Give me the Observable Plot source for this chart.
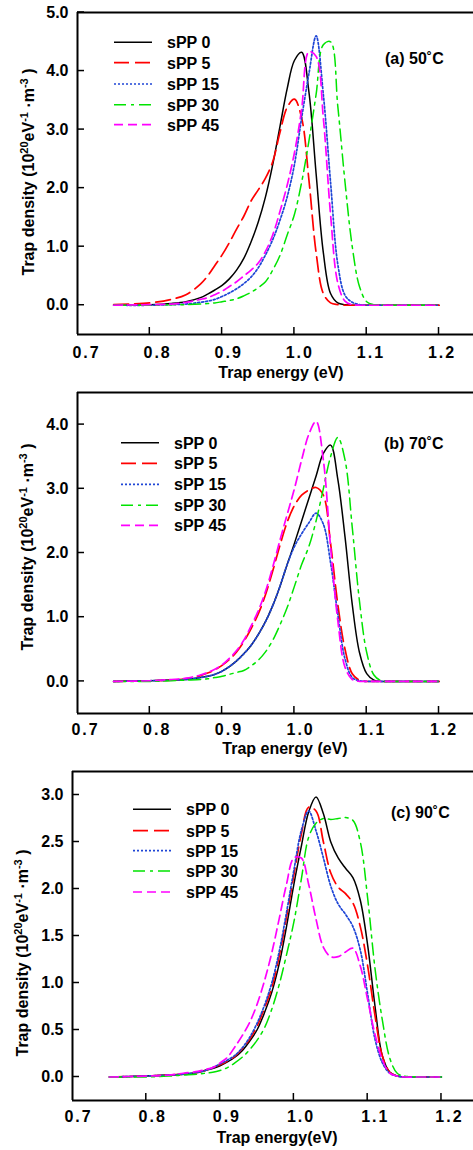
<!DOCTYPE html>
<html><head><meta charset="utf-8">
<script src="https://cdn.jsdelivr.net/npm/d3@7"></script>
<script src="https://cdn.jsdelivr.net/npm/@observablehq/plot@0.6"></script>
<style>
body{margin:0;background:#fff;}
#chart svg{display:block;}
</style></head><body><div id="chart"></div>
<script>
// ---- data ----
const energy = [0.75,0.80,0.83,0.85,0.87,0.88,0.89,0.90,0.91,0.92,0.93,0.94,0.95,0.96,0.97,0.98,0.99,1.00,1.01,1.02,1.03,1.04,1.05,1.06,1.07,1.08,1.09,1.10,1.11,1.12,1.13,1.14,1.15,1.17,1.20];
const series = ["sPP 0","sPP 5","sPP 15","sPP 30","sPP 45"];
const xTicks = [0.7,0.8,0.9,1.0,1.1,1.2];

// 50 °C
const t50_sPP0  = [0,0.01,0.03,0.06,0.13,0.19,0.26,0.34,0.45,0.6,0.8,1.08,1.42,1.85,2.4,3.05,3.7,4.18,4.32,3.65,2.25,0.9,0.2,0.04,0.01,0,0,0,0,0,0,0,0,0,0];
const t50_sPP5  = [0.01,0.04,0.1,0.18,0.36,0.5,0.68,0.86,1.07,1.3,1.52,1.78,1.97,2.17,2.45,2.95,3.38,3.52,3.2,2.15,0.9,0.2,0.04,0.01,0,0,0,0,0,0,0,0,0,0,0];
const t50_sPP15 = [0,0,0.01,0.02,0.05,0.07,0.1,0.15,0.21,0.28,0.37,0.48,0.64,0.86,1.12,1.45,1.85,2.4,3.2,3.95,4.6,3.6,2.1,0.7,0.17,0.05,0.01,0,0,0,0,0,0,0,0];
const t50_sPP30 = [0,0,0.01,0.01,0.02,0.03,0.04,0.06,0.08,0.11,0.16,0.22,0.3,0.4,0.6,0.85,1.2,1.55,2.1,2.8,3.6,4.45,4.5,3.4,2.1,1.0,0.32,0.06,0.01,0,0,0,0,0,0];
const t50_sPP45 = [0,0.01,0.02,0.05,0.1,0.13,0.18,0.24,0.32,0.4,0.5,0.6,0.72,0.92,1.2,1.6,2.05,2.6,3.35,4.33,4.25,3.2,1.55,0.38,0.07,0.01,0,0,0,0,0,0,0,0,0];
const t50_yTicks = [0,1,2,3,4,5];

// 70 °C
const t70_sPP0  = [0,0.01,0.02,0.03,0.06,0.08,0.11,0.16,0.23,0.32,0.43,0.56,0.73,0.93,1.18,1.48,1.82,2.15,2.5,2.85,3.2,3.55,3.68,3.15,2.25,1.2,0.45,0.12,0.02,0,0,0,0,0,0];
const t70_sPP5  = [0,0.01,0.02,0.04,0.09,0.13,0.18,0.25,0.34,0.46,0.62,0.82,1.05,1.35,1.72,2.12,2.48,2.74,2.9,2.98,3.02,2.9,2.15,1.2,0.5,0.12,0.02,0,0,0,0,0,0,0,0];
const t70_sPP15 = [0,0.01,0.02,0.03,0.06,0.08,0.11,0.16,0.23,0.32,0.43,0.56,0.73,0.93,1.18,1.48,1.82,2.1,2.3,2.47,2.62,2.45,1.85,1.05,0.35,0.06,0.01,0,0,0,0,0,0,0,0];
const t70_sPP30 = [0,0,0.01,0.02,0.03,0.04,0.06,0.08,0.11,0.14,0.17,0.24,0.33,0.46,0.64,0.88,1.15,1.48,1.82,2.1,2.5,3.0,3.5,3.8,3.45,2.4,1.25,0.45,0.1,0.01,0,0,0,0,0];
const t70_sPP45 = [0,0.01,0.03,0.05,0.1,0.14,0.19,0.26,0.36,0.48,0.64,0.86,1.1,1.4,1.78,2.2,2.6,3.0,3.45,3.85,4.05,3.45,2.1,0.95,0.22,0.03,0,0,0,0,0,0,0,0,0];
const t70_yTicks = [0,1,2,3,4];

// 90 °C
const t90_sPP0  = [0,0.01,0.02,0.03,0.05,0.07,0.09,0.12,0.16,0.21,0.28,0.38,0.5,0.68,0.9,1.2,1.6,2.05,2.45,2.82,2.98,2.8,2.5,2.33,2.22,2.12,1.88,1.4,0.75,0.22,0.05,0.01,0,0,0];
const t90_sPP5  = [0,0.01,0.02,0.03,0.05,0.07,0.1,0.13,0.17,0.22,0.3,0.4,0.54,0.73,0.95,1.28,1.7,2.15,2.58,2.87,2.83,2.5,2.17,2.02,1.95,1.85,1.6,1.18,0.65,0.22,0.05,0.01,0,0,0];
const t90_sPP15 = [0,0.01,0.02,0.03,0.05,0.07,0.1,0.14,0.18,0.23,0.31,0.42,0.57,0.76,1.0,1.33,1.75,2.2,2.62,2.83,2.62,2.33,2.03,1.84,1.73,1.6,1.35,0.88,0.4,0.15,0.04,0.01,0,0,0];
const t90_sPP30 = [0,0,0.01,0.02,0.03,0.04,0.05,0.07,0.1,0.15,0.21,0.29,0.39,0.52,0.72,0.98,1.3,1.65,2.1,2.55,2.7,2.75,2.74,2.75,2.76,2.73,2.5,1.9,1.15,0.6,0.2,0.04,0.01,0,0];
const t90_sPP45 = [0,0.01,0.02,0.04,0.06,0.08,0.1,0.15,0.21,0.32,0.44,0.58,0.77,1.02,1.32,1.68,2.05,2.33,2.33,2.05,1.68,1.38,1.28,1.28,1.33,1.37,1.18,0.82,0.45,0.18,0.04,0.01,0,0,0];
const t90_yTicks = [0,0.5,1,1.5,2,2.5,3];

// ---- styles ----
const colors = ["#000000","#ff0000","#1f46d6","#00e400","#ff00ff"];
const dashes = [null,"15,6","2,2","12,5,3,5","9,5"];
const widths = [1.5,1.7,1.7,1.5,1.7];
const FONT = '"Liberation Sans", Arial, Helvetica, sans-serif';

const panels = [
  {values:[t50_sPP0,t50_sPP5,t50_sPP15,t50_sPP30,t50_sPP45], yTicks:t50_yTicks, yDomain:[-0.5,5], xDomain:[0.7,1.2477],
   h:385, mt:12, mb:51, ml:77, xPad:12, dx0:9, dx1:3, tag:"(a) 50˚C", tagX:385, tagY:64,
   legX:114, legTextX:167, legY:[42.3,62.7,84,104.7,124.7],
   xLabel:"Trap energy (eV)", xLabelX:281, xLabelY:378, yLabelX:34, yLabelY:172},
  {values:[t70_sPP0,t70_sPP5,t70_sPP15,t70_sPP30,t70_sPP45], yTicks:t70_yTicks, yDomain:[-0.5,4.5], xDomain:[0.7,1.2477],
   h:377, mt:7, mb:49, ml:77, xPad:10, dx0:8, dx1:5, tag:"(b) 70˚C", tagX:384, tagY:63.5,
   legX:121, legTextX:174, legY:[57.7,78.3,99.3,120.3,140.3],
   xLabel:"Trap energy (eV)", xLabelX:285, xLabelY:369, yLabelX:33, yLabelY:162},
  {values:[t90_sPP0,t90_sPP5,t90_sPP15,t90_sPP30,t90_sPP45], yTicks:t90_yTicks, yDomain:[-0.25,3.25], xDomain:[0.7,1.2434],
   h:388, mt:9, mb:50, ml:72, xPad:10, dx0:6, dx1:8, tag:"(c) 90˚C", tagX:391, tagY:55.5,
   legX:133, legTextX:186, legY:[47.3,68.7,88.7,109,130],
   xLabel:"Trap energy(eV)", xLabelX:277, xLabelY:381, yLabelX:28, yLabelY:191}
];

const fmt = d3.format(".1f");
const root = document.getElementById("chart");

for (const p of panels) {
  const marks = [];
  series.forEach((name, i) => {
    const rows = energy.map((e, j) => ({E: e, v: p.values[i][j]}));
    marks.push(Plot.line(rows, {x: "E", y: "v", stroke: colors[i], strokeWidth: widths[i],
      strokeDasharray: dashes[i], curve: "catmull-rom"}));
  });
  marks.push(Plot.ruleX([p.xDomain[0]], {strokeWidth: 2}));
  marks.push(Plot.ruleY([p.yDomain[0], p.yDomain[1]], {strokeWidth: 2}));
  marks.push(Plot.axisX(xTicks, {tickSize: 0, tickPadding: p.xPad, tickFormat: fmt, label: null}));
  marks.push(Plot.axisY(p.yTicks, {tickSize: 0, tickPadding: 9, tickFormat: fmt, label: null}));

  const plot = Plot.plot({
    width: 473, height: p.h,
    marginTop: p.mt, marginBottom: p.mb, marginLeft: p.ml, marginRight: 0,
    x: {domain: p.xDomain, label: null},
    y: {domain: p.yDomain, label: null},
    style: {fontFamily: FONT, fontSize: "16px", fontWeight: "bold", background: "#fff", overflow: "visible"},
    marks
  });

  const sx = plot.scale("x"), sy = plot.scale("y");
  const svg = d3.select(plot);
  svg.selectAll('[aria-label="x-axis tick label"] text').each(function(d, k) {
    const t = xTicks[k];
    const dx = p.dx0 + (p.dx1 - p.dx0) * (t - 0.7) / 0.5;
    d3.select(this).attr("letter-spacing", "2px").attr("dx", dx);
  });

  // inward ticks
  const g = svg.append("g").attr("stroke", "#000").attr("stroke-width", 1.5);
  const yb = sy.apply(p.yDomain[0]);
  const xl = sx.apply(p.xDomain[0]);
  xTicks.slice(1).forEach(t => {
    const x = sx.apply(t);
    g.append("line").attr("x1", x).attr("x2", x).attr("y1", yb).attr("y2", yb - 7);
  });
  p.yTicks.forEach(t => {
    const y = sy.apply(t);
    g.append("line").attr("x1", xl).attr("x2", xl + 7).attr("y1", y).attr("y2", y);
  });

  // legend
  const lg = svg.append("g").attr("text-anchor", "start");
  series.forEach((name, i) => {
    const y = p.legY[i];
    lg.append("line").attr("x1", p.legX).attr("x2", p.legX + 38).attr("y1", y).attr("y2", y)
      .attr("stroke", colors[i]).attr("stroke-width", widths[i])
      .attr("stroke-dasharray", dashes[i]);
    lg.append("text").attr("x", p.legTextX).attr("y", y + 5.8).attr("font-size", 16)
      .attr("font-weight", "bold").attr("fill", "#000").attr("text-anchor", "start").text(name);
  });

  // panel tag
  svg.append("text").attr("x", p.tagX).attr("y", p.tagY).attr("font-size", 16)
    .attr("font-weight", "bold").attr("text-anchor", "start").text(p.tag);

  // x label
  svg.append("text").attr("x", p.xLabelX).attr("y", p.xLabelY).attr("text-anchor", "middle")
    .attr("font-size", 16).attr("font-weight", "bold").text(p.xLabel);

  // y label with superscripts
  const yt = svg.append("text").attr("transform", `translate(${p.yLabelX},${p.yLabelY}) rotate(-90)`)
    .attr("text-anchor", "middle").attr("font-size", 16).attr("font-weight", "bold");
  yt.append("tspan").text("Trap density (10");
  yt.append("tspan").attr("dy", -6).attr("font-size", 11).text("20");
  yt.append("tspan").attr("dy", 6).text("eV");
  yt.append("tspan").attr("dy", -6).attr("font-size", 11).text("-1");
  yt.append("tspan").attr("dy", 6).text(" ·m");
  yt.append("tspan").attr("dy", -6).attr("font-size", 11).text("-3");
  yt.append("tspan").attr("dy", 6).text(" )");

  root.appendChild(plot);
}
</script>
</body></html>
